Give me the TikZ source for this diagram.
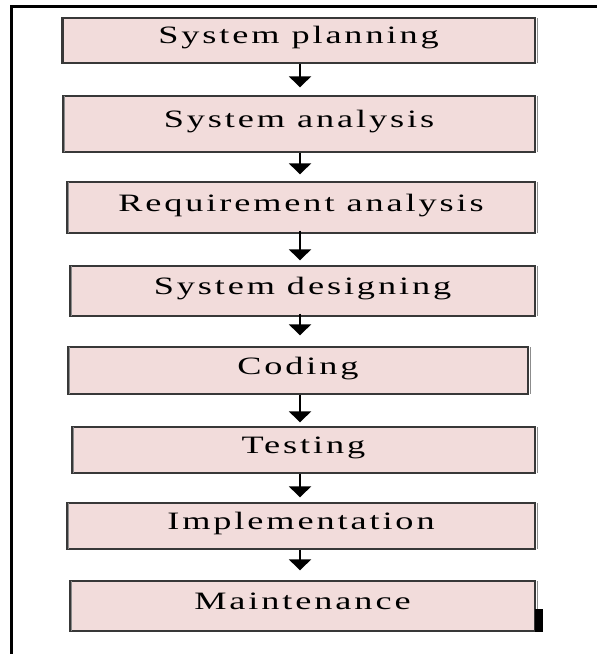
\documentclass[tikz,border=0pt]{standalone}
\usepackage{fontspec}
\usetikzlibrary{arrows.meta}
\newfontfamily\boxfont[LetterSpace=8]{Liberation Serif}
\newcommand{\widetext}[1]{\scalebox{1.45}[1]{#1}}
\definecolor{boxfill}{HTML}{F2DCDB}
\definecolor{boxline}{HTML}{383838}
\definecolor{boxshade}{HTML}{8C8C8C}
\begin{document}
\begin{tikzpicture}[x=1bp,y=-1bp,
  stagebox/.style={draw=boxline, fill=boxfill, line width=1.3bp, rectangle,
    inner sep=0pt, text height=18bp, text depth=11bp,
    font=\boxfont\fontsize{25bp}{28bp}\selectfont},
  flowarrow/.style={line width=2.2bp, -{Triangle[width=22bp,length=11bp]}},
  frame/.style={line width=3bp, black}
]
\useasboundingbox (0,0) rectangle (597,654);
% outer frame (top and left only)
\draw[frame] (11.5,654) -- (11.5,7) -- (597,7);

% boxes
\node[stagebox, minimum width=473bp, minimum height=45bp] (b1) at (298.5,40.5) {\widetext{System planning}};
\node[stagebox, minimum width=472bp, minimum height=56bp] (b2) at (299,124) {\widetext{System analysis}};
\node[stagebox, minimum width=468bp, minimum height=51bp] (b3) at (301,207.5) {\widetext{Requirement analysis}};
\node[stagebox, minimum width=465bp, minimum height=50bp] (b4) at (302.5,291) {\widetext{System designing}};
\node[stagebox, minimum width=460bp, minimum height=47bp] (b5) at (298,370.5) {\widetext{Coding}};
\node[stagebox, minimum width=463bp, minimum height=46bp] (b6) at (303.5,450) {\widetext{Testing}};
\node[stagebox, minimum width=468bp, minimum height=46bp] (b7) at (301,526) {\widetext{Implementation}};
\node[stagebox, minimum width=465bp, minimum height=50bp] (b8) at (302.5,606) {\widetext{Maintenance}};

% shading on the vertical sides of the boxes
\foreach \b in {b1,b2,b3,b4,b5,b6,b7,b8}{
  \draw[boxshade, line width=1.6bp] ([xshift=2.2bp,yshift=-1bp]\b.north west) -- ([xshift=2.2bp,yshift=1bp]\b.south west);
  \draw[boxshade, line width=1.6bp] ([xshift=2bp,yshift=-1bp]\b.north east) -- ([xshift=2bp,yshift=1bp]\b.south east);
}
\draw[boxline, line width=3bp] ([xshift=1bp]b1.north west) -- ([xshift=1bp]b1.south west);

% small black bar at the right of the last box
\coordinate (barTop) at (538.5,609);
\coordinate (barBot) at (538.5,632);
\draw[black, line width=8bp] (barTop) -- (barBot);

% arrows
\coordinate (ax) at (300,0);
\draw[flowarrow, shorten >=8bp] (b1.south -| ax) -- (b2.north -| ax);
\draw[flowarrow, shorten >=7bp] (b2.south -| ax) -- (b3.north -| ax);
\draw[flowarrow, shorten >=5bp, shorten <=-3bp] (b3.south -| ax) -- (b4.north -| ax);
\draw[flowarrow, shorten >=11bp, shorten <=-3bp] (b4.south -| ax) -- (b5.north -| ax);
\draw[flowarrow, shorten >=4bp] (b5.south -| ax) -- (b6.north -| ax);
\draw[flowarrow, shorten >=5bp] (b6.south -| ax) -- (b7.north -| ax);
\draw[flowarrow, shorten >=10bp] (b7.south -| ax) -- (b8.north -| ax);
\end{tikzpicture}
\end{document}
